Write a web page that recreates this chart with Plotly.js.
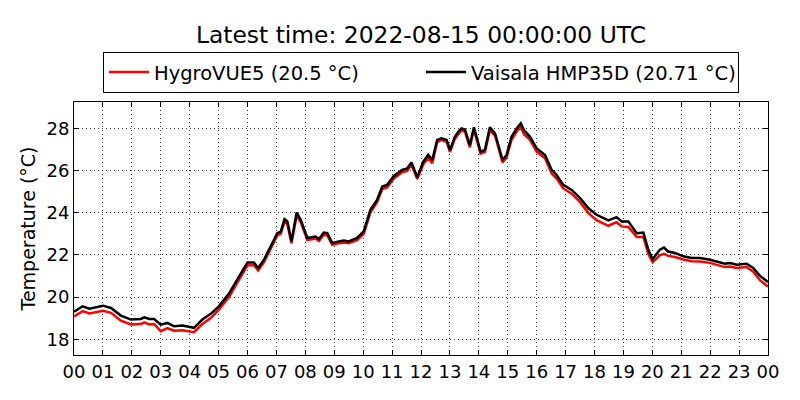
<!DOCTYPE html>
<html>
<head>
<meta charset="utf-8">
<script src="https://cdn.plot.ly/plotly-3.0.1.min.js"></script>
<style>
  body { margin: 0; background: #fff; }
  #chart { width: 800px; height: 400px; }
</style>
</head>
<body>
<div id="chart"></div>
<script>
// hours after 2022-08-14 00:00 UTC
var hours = [0.0, 0.3, 0.53, 0.93, 1.0, 1.28, 1.62, 1.97, 2.31, 2.43, 2.6, 2.77, 3.0, 3.23, 3.46, 3.75, 3.98, 4.15, 4.44, 4.73,
  5.01, 5.36, 5.71, 6.0, 6.22, 6.37, 6.57, 6.74, 7.03, 7.15, 7.28, 7.38, 7.52, 7.7, 7.84, 8.07, 8.35, 8.47, 8.64, 8.76,
  8.93, 9.16, 9.33, 9.5, 9.62, 9.79, 10.02, 10.25, 10.48, 10.66, 10.83, 11.06, 11.35, 11.52, 11.67, 11.87, 12.08, 12.25, 12.39, 12.56,
  12.71, 12.89, 13.0, 13.17, 13.29, 13.4, 13.52, 13.69, 13.83, 14.06, 14.21, 14.38, 14.56, 14.82, 14.96, 15.13, 15.31, 15.45, 15.56, 15.77,
  16.0, 16.29, 16.52, 16.69, 16.92, 17.21, 17.5, 17.79, 18.07, 18.3, 18.48, 18.76, 18.94, 19.17, 19.46, 19.69, 19.86, 20.01, 20.26, 20.4,
  20.55, 20.78, 21.07, 21.36, 21.65, 21.99, 22.28, 22.51, 22.68, 22.92, 23.26, 23.49, 23.72, 23.95, 24.0];

var vaisala = [19.3, 19.56, 19.45, 19.56, 19.59, 19.48, 19.12, 18.93, 18.96, 19.04, 18.96, 18.96, 18.69, 18.77, 18.61, 18.65, 18.58, 18.54, 18.93, 19.2,
  19.56, 20.16, 20.98, 21.64, 21.64, 21.38, 21.77, 22.24, 23.03, 23.1, 23.69, 23.58, 22.64, 24.01, 23.66, 22.8, 22.87, 22.75, 23.06, 23.03,
  22.56, 22.64, 22.68, 22.64, 22.72, 22.8, 23.11, 24.14, 24.6, 25.24, 25.32, 25.74, 26.03, 26.1, 26.38, 25.68, 26.42, 26.74, 26.5, 27.45,
  27.53, 27.45, 26.97, 27.6, 27.84, 28.0, 27.95, 27.21, 28.05, 26.9, 26.97, 28.05, 27.76, 26.5, 26.74, 27.6, 28.0, 28.24, 27.92, 27.6,
  27.05, 26.74, 26.03, 25.79, 25.32, 25.08, 24.69, 24.21, 23.9, 23.74, 23.63, 23.79, 23.58, 23.58, 23.03, 23.06, 22.24, 21.8, 22.24, 22.35,
  22.16, 22.09, 21.93, 21.85, 21.85, 21.77, 21.66, 21.58, 21.61, 21.53, 21.58, 21.38, 21.01, 20.79, 20.71];

var hygrovue = [19.08, 19.33, 19.22, 19.32, 19.35, 19.25, 18.88, 18.7, 18.72, 18.8, 18.7, 18.72, 18.38, 18.52, 18.4, 18.42, 18.38, 18.33, 18.72, 19.0,
  19.4, 20.0, 20.82, 21.5, 21.52, 21.26, 21.65, 22.12, 22.92, 23.0, 23.58, 23.45, 22.55, 23.85, 23.55, 22.7, 22.78, 22.66, 22.95, 22.92,
  22.48, 22.55, 22.58, 22.55, 22.62, 22.7, 23.0, 24.0, 24.5, 25.12, 25.2, 25.62, 25.92, 25.98, 26.28, 25.6, 26.3, 26.6, 26.35, 27.35,
  27.45, 27.35, 26.88, 27.5, 27.72, 27.9, 27.85, 27.1, 27.95, 26.8, 26.88, 27.9, 27.65, 26.38, 26.62, 27.45, 27.85, 28.08, 27.72, 27.45,
  26.9, 26.58, 25.86, 25.62, 25.15, 24.9, 24.5, 23.98, 23.65, 23.5, 23.38, 23.55, 23.35, 23.32, 22.85, 22.85, 22.05, 21.65, 21.98, 22.05,
  21.95, 21.9, 21.78, 21.7, 21.68, 21.62, 21.5, 21.42, 21.45, 21.38, 21.42, 21.2, 20.8, 20.58, 20.5];

var yTicks = [18, 20, 22, 24, 26, 28];

var start = Date.UTC(2022, 7, 14, 0, 0, 0);
function toTime(h) {
    var d = new Date(start + Math.round(h * 3600000));
    return d.toISOString().replace('T', ' ').substring(0, 19);
}
var times = hours.map(toTime);

var red = {
    x: times,
    y: hygrovue,
    mode: 'lines',
    type: 'scatter',
    name: 'HygroVUE5 (20.5 °C)',
    line: {color: '#ff0000', width: 2.5}
};

var black = {
    x: times,
    y: vaisala,
    mode: 'lines',
    type: 'scatter',
    name: 'Vaisala HMP35D (20.71 °C)',
    line: {color: '#000000', width: 2.5}
};

var axisStyle = {
    showline: true,
    linecolor: '#000',
    linewidth: 1,
    mirror: 'allticks',
    ticks: 'inside',
    ticklen: 5,
    tickcolor: '#000',
    showgrid: true,
    gridcolor: '#444',
    gridwidth: 1,
    griddash: '1px,3px',
    zeroline: false,
    tickfont: {size: 18, color: '#000'}
};

var layout = {
    width: 800,
    height: 400,
    margin: {l: 74, r: 32, t: 102, b: 45},
    paper_bgcolor: '#fff',
    plot_bgcolor: '#fff',
    font: {family: 'DejaVu Sans', color: '#000'},
    title: {
        text: 'Latest time: 2022-08-15 00:00:00 UTC',
        font: {size: 23.4, color: '#000'},
        x: 0.5, xref: 'paper',
        y: 0.912, yref: 'container', yanchor: 'middle'
    },
    showlegend: true,
    legend: {
        orientation: 'h',
        x: 0.5, xanchor: 'center',
        y: 1.117, yanchor: 'middle',
        bordercolor: '#000',
        borderwidth: 1,
        font: {size: 19.5, color: '#000'},
        itemwidth: 40,
        entrywidth: 262
    },
    xaxis: Object.assign({}, axisStyle, {
        type: 'date',
        range: [toTime(0), toTime(24)],
        dtick: 3600000,
        tick0: toTime(0),
        tickformat: '%H'
    }),
    yaxis: Object.assign({}, axisStyle, {
        range: [17.25, 29.25],
        tickvals: yTicks,
        title: {text: 'Temperature (°C)', font: {size: 19, color: '#000'}, standoff: 5}
    })
};

Plotly.newPlot('chart', [red, black], layout, {staticPlot: true});
</script>
</body>
</html>
